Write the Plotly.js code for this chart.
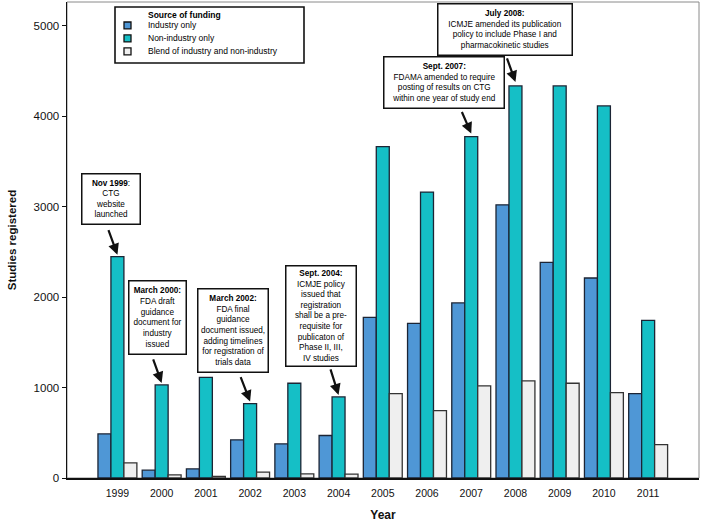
<!DOCTYPE html>
<html>
<head>
<meta charset="utf-8">
<script src="https://cdn.plot.ly/plotly-3.0.1.min.js"></script>
<style>html,body{margin:0;padding:0;background:#fff;}#chart{width:701px;height:522px;}</style>
</head>
<body>
<div id="chart"></div>
<script>
// ---- data ----
const years = [1999,2000,2001,2002,2003,2004,2005,2006,2007,2008,2009,2010,2011];
const industryOnly = [488,86,101,422,378,470,1777,1711,1936,3022,2385,2212,934];
const nonIndustryOnly = [2448,1030,1114,823,1048,897,3666,3163,3777,4337,4337,4116,1744];
const blend = [168,35,17,64,46,42,934,746,1019,1074,1048,945,370];
const seriesNames = ["Industry only","Non-industry only","Blend of industry and non-industry"];
const seriesColors = ["#4f97d6","#15bfc6","#efefef"];
const legendTitle = "Source of funding";
const yTickVals = [0,1000,2000,3000,4000,5000];

// events: label lines, target year, target value (bar the arrow points at)
const eventYears = [1999,2000,2002,2004,2007,2008];
const eventTargets = [2448,1030,823,897,3777,4337];
const eventTexts = [
  "<b>Nov 1999</b>:<br>CTG<br>website<br>launched",
  "<b>March 2000:</b><br>FDA draft<br>guidance<br>document for<br>industry<br>issued",
  "<b>March 2002:</b><br>FDA final<br>guidance<br>document issued,<br>adding timelines<br>for registration of<br>trials data",
  "<b>Sept. 2004:</b><br>ICMJE policy<br>issued that<br>registration<br>shall be a pre-<br>requisite for<br>publicaton of<br>Phase II, III,<br>IV studies",
  "<b>Sept. 2007:</b><br>FDAMA amended to require<br>posting of results on CTG<br>within one year of study end",
  "<b>July 2008:</b><br>ICMJE amended its publication<br>policy to include Phase I and<br>pharmacokinetic studies"
];

// ---- layout geometry (pixels) ----
const W = 701, H = 522;
const M = {l:67, r:2, t:2, b:43.5};
const PW = W - M.l - M.r, PH = H - M.t - M.b;
const px2x = px => (px - M.l) / PW;          // paper x
const py2y = py => (H - M.b - py) / PH;      // paper y
const font = "Arial, 'Liberation Sans', sans-serif";
const outline = "#1c2535";

const traces = [industryOnly, nonIndustryOnly, blend].map((vals, k) => ({
  type: "bar",
  x: years,
  y: vals,
  name: seriesNames[k],
  marker: {color: seriesColors[k], line: {color: k === 2 ? "#333" : outline, width: 1.3}},
  showlegend: false,
  hoverinfo: "x+y+name"
}));

// box placements (center in px) and sizes; arrow tail offsets
const boxGeom = [
  {cx:110.5, cy:199,  w:55,  h:47, ax:-9.5, ay:-26, gap:2},
  {cx:157,   cy:318,  w:54,  h:70, ax:-9,   ay:-25, gap:2},
  {cx:232.5, cy:331,  w:67,  h:80, ax:-10,  ay:-26, gap:2},
  {cx:320.5, cy:316.5,w:67,  h:97, ax:-8.5, ay:-27, gap:2},
  {cx:443.5, cy:82.5, w:117, h:48, ax:-10,  ay:-23, gap:3},
  {cx:504.5, cy:29.5, w:131, h:48, ax:-9,   ay:-25, gap:4}
];

const annotations = [];
eventTexts.forEach((t, i) => {
  const g = boxGeom[i];
  annotations.push({
    xref:"paper", yref:"paper", x:px2x(g.cx), y:py2y(g.cy),
    xanchor:"center", yanchor:"middle",
    text:t, showarrow:false, align:"center",
    font:{family:font, size:8.2, color:"#000"},
    bgcolor:"#fff", bordercolor:"#111", borderwidth:1.5, borderpad:1,
    width:g.w, height:g.h
  });
  annotations.push({
    xref:"x", yref:"y", x:eventYears[i], y:eventTargets[i] + g.gap * 5265 / PH,
    text:"", showarrow:true, arrowhead:2, arrowsize:1, arrowwidth:2.2,
    arrowcolor:"#111", ax:g.ax, ay:g.ay, standoff:0
  });
});

// custom legend
annotations.push({
  xref:"paper", yref:"paper", x:px2x(146), y:py2y(15.5), xanchor:"left", yanchor:"middle",
  text:"<b>" + legendTitle + "</b>", showarrow:false,
  font:{family:font, size:8.5, color:"#000"}
});
const rowY = [25.5, 38.5, 51.5];
const shapes = [];
seriesNames.forEach((n, k) => {
  annotations.push({
    xref:"paper", yref:"paper", x:px2x(146), y:py2y(rowY[k]), xanchor:"left", yanchor:"middle",
    text:n, showarrow:false, font:{family:font, size:8.5, color:"#000"}
  });
  shapes.push({
    type:"rect", xref:"paper", yref:"paper",
    x0:px2x(124), x1:px2x(131), y0:py2y(rowY[k]+3.5), y1:py2y(rowY[k]-3.5),
    fillcolor:seriesColors[k], line:{color:"#111", width:1.3}
  });
});
shapes.push({
  type:"rect", xref:"paper", yref:"paper",
  x0:px2x(115), x1:px2x(304), y0:py2y(63), y1:py2y(7),
  fillcolor:"rgba(255,255,255,0)", line:{color:"#111", width:1.6}, layer:"above"
});
// outer grey frame
shapes.push({
  type:"rect", xref:"paper", yref:"paper", x0:0, x1:1, y0:0, y1:1,
  line:{color:"#8a8a8a", width:1}, layer:"below"
});

const layout = {
  width:W, height:H,
  margin:M,
  paper_bgcolor:"#fff", plot_bgcolor:"#fff",
  barmode:"group", bargap:0.12, bargroupgap:0,
  showlegend:false,
  font:{family:font, color:"#111"},
  xaxis:{
    type:"linear", range:[1997.86, 2012.15], tickvals:years, ticktext:years.map(String),
    showgrid:false, zeroline:false, showline:true, linecolor:"#111", linewidth:1.5,
    ticks:"", ticklabelstandoff:5, tickfont:{family:font, size:10.5, color:"#111"},
    title:{text:"<b>Year</b>", font:{family:font, size:12, color:"#111"}, standoff:14}
  },
  yaxis:{
    range:[0, 5265], tickvals:yTickVals, showgrid:false, zeroline:false,
    showline:true, linecolor:"#111", linewidth:1.5,
    ticks:"outside", ticklen:4, tickwidth:1, tickcolor:"#111",
    tickfont:{family:font, size:11.5, color:"#111"},
    title:{text:"<b>Studies registered</b>", font:{family:font, size:11.5, color:"#111"}, standoff:14}
  },
  annotations:annotations,
  shapes:shapes
};

Plotly.newPlot("chart", traces, layout, {displayModeBar:false, staticPlot:true});
</script>
</body>
</html>
